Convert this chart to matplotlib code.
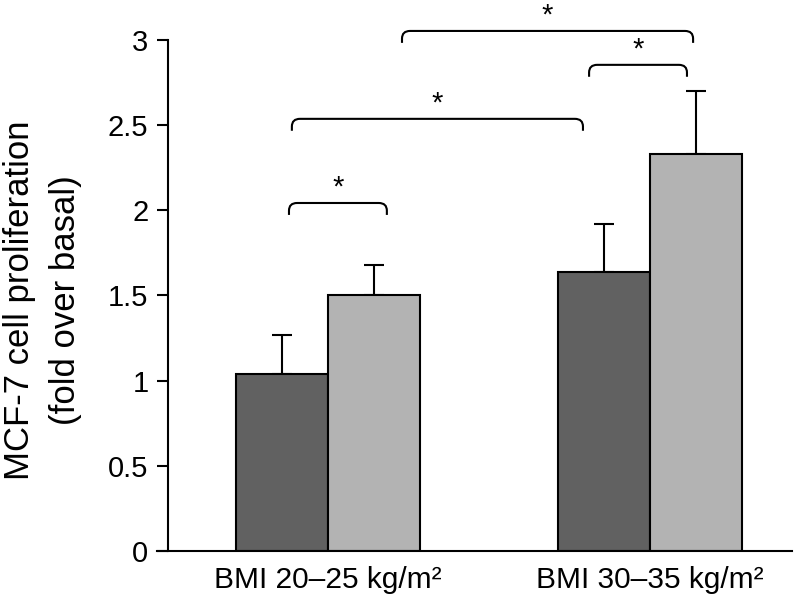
import matplotlib
matplotlib.use('Agg')
import matplotlib.pyplot as plt
from matplotlib.path import Path
from matplotlib.patches import PathPatch
import numpy as np

# Data
groups = ['BMI 20\u201325 kg/m\u00b2', 'BMI 30\u201335 kg/m\u00b2']
dark_means = [1.04, 1.64]
dark_errs = [0.23, 0.28]
light_means = [1.50, 2.33]
light_errs = [0.18, 0.37]

# Significance brackets: (left x, right x, height)
brackets = [(-0.121, 0.183, 2.043),
            (-0.112, 0.792, 2.537),
            (0.811, 1.115, 2.854),
            (0.230, 1.134, 3.053)]

plt.rcParams['font.family'] = ['Liberation Sans', 'DejaVu Sans']

fig = plt.figure(figsize=(8.12, 6.08), dpi=100)
ax = fig.add_axes([0.1933, 0.09375, 0.782, 0.8405])

x = np.arange(len(groups))
width = 0.286

# Draw the bars with upward-only error bars
ax.bar(x - width / 2, dark_means, width, color='#616161', edgecolor='black', linewidth=1.5, zorder=2)
ax.bar(x + width / 2, light_means, width, color='#b3b3b3', edgecolor='black', linewidth=1.5, zorder=2)
ax.errorbar(x - width / 2, dark_means, yerr=[[0] * len(x), dark_errs], fmt='none',
            ecolor='black', elinewidth=1.5, capsize=7, capthick=1.5, zorder=1)
ax.errorbar(x + width / 2, light_means, yerr=[[0] * len(x), light_errs], fmt='none',
            ecolor='black', elinewidth=1.5, capsize=7, capthick=1.5, zorder=1)


def draw_bracket(ax, x0, x1, y, drop=0.07, rx=0.025, ry=0.045):
    # Horizontal line with rounded ends dropping down
    verts = [(x0, y - drop), (x0, y - ry), (x0, y), (x0 + rx, y),
             (x1 - rx, y), (x1, y), (x1, y - ry), (x1, y - drop)]
    codes = [Path.MOVETO, Path.LINETO, Path.CURVE3, Path.CURVE3,
             Path.LINETO, Path.CURVE3, Path.CURVE3, Path.LINETO]
    ax.add_patch(PathPatch(Path(verts, codes), facecolor='none', edgecolor='black',
                           linewidth=1.5, clip_on=False, capstyle='butt'))
    ax.text((x0 + x1) / 2, y + 0.09, '*', ha='center', va='center', fontsize=21, clip_on=False)


for b in brackets:
    draw_bracket(ax, *b)

# Axes styling
ax.set_xlim(-0.531, 1.441)
ax.set_ylim(0, 3)
ax.set_yticks([0, 0.5, 1, 1.5, 2, 2.5, 3])
ax.set_yticklabels(['0', '0.5', '1', '1.5', '2', '2.5', '3'])
ax.set_xticks(x)
ax.set_xticklabels(groups)
ax.spines['top'].set_visible(False)
ax.spines['right'].set_visible(False)
ax.spines['left'].set_position(('data', -0.497))
ax.spines['left'].set_linewidth(1.5)
ax.spines['bottom'].set_linewidth(1.5)
ax.tick_params(axis='y', length=8, width=1.5, pad=6, labelsize=21)
ax.tick_params(axis='x', length=0, pad=11, labelsize=21.5)
ax.set_ylabel('MCF-7 cell proliferation\n(fold over basal)', fontsize=25, linespacing=1.5)
ax.yaxis.set_label_coords(-0.118, 0.49)

plt.savefig('out.png', dpi=100)
